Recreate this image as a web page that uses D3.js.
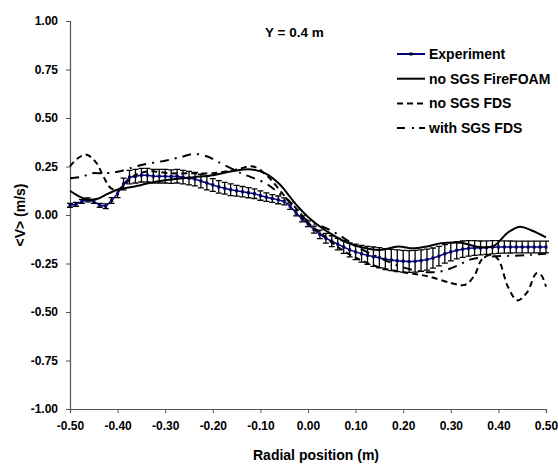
<!DOCTYPE html>
<html>
<head>
<meta charset="utf-8">
<script src="https://cdn.jsdelivr.net/npm/d3@7"></script>
<style>
  body { margin: 0; background: #fff; }
  svg text { font-family: "Liberation Sans", Arial, sans-serif; font-weight: bold; fill: #000; }
</style>
</head>
<body>
<div id="chart"></div>
<script>
// experiment, sampled every 0.0125 m from -0.50 to 0.50
var expX = d3.range(81).map(function(i) { return +(-0.5 + i * 0.0125).toFixed(4); });
var expV = [
  0.05, 0.055, 0.07, 0.078, 0.07, 0.05, 0.045, 0.075, 0.11, 0.16,
  0.195, 0.20, 0.205, 0.205, 0.20, 0.20, 0.20, 0.198, 0.20, 0.195,
  0.19, 0.185, 0.175, 0.165, 0.155, 0.145, 0.138, 0.13, 0.125, 0.12,
  0.115, 0.11, 0.10, 0.092, 0.085, 0.078, 0.07, 0.045, 0.01, -0.02,
  -0.045, -0.075, -0.10, -0.12, -0.135, -0.15, -0.165, -0.18, -0.19, -0.20,
  -0.208, -0.215, -0.22, -0.228, -0.232, -0.236, -0.238, -0.24, -0.238, -0.235,
  -0.23, -0.222, -0.212, -0.20, -0.19, -0.182, -0.176, -0.172, -0.17, -0.17,
  -0.168, -0.166, -0.165, -0.165, -0.165, -0.165, -0.165, -0.165, -0.165, -0.165,
  -0.165
];
var expErr = [
  0.01, 0.01, 0.01, 0.01, 0.01, 0.01, 0.012, 0.015, 0.02, 0.03,
  0.035, 0.035, 0.035, 0.035, 0.035, 0.035, 0.035, 0.035, 0.035, 0.035,
  0.035, 0.035, 0.035, 0.035, 0.033, 0.032, 0.03, 0.03, 0.028, 0.027,
  0.026, 0.025, 0.024, 0.022, 0.02, 0.02, 0.018, 0.016, 0.015, 0.015,
  0.015, 0.018, 0.022, 0.025, 0.028, 0.03, 0.033, 0.036, 0.04, 0.043,
  0.046, 0.05, 0.052, 0.054, 0.055, 0.056, 0.056, 0.056, 0.056, 0.055,
  0.054, 0.052, 0.05, 0.048, 0.046, 0.044, 0.042, 0.04, 0.038, 0.036,
  0.035, 0.034, 0.033, 0.032, 0.031, 0.03, 0.03, 0.03, 0.03, 0.03,
  0.03
];

// no SGS FireFOAM
var foamX = [-0.5, -0.48, -0.46, -0.44, -0.42, -0.40, -0.38, -0.35, -0.32, -0.28, -0.24, -0.2, -0.16, -0.12, -0.09, -0.06, -0.04, -0.02, 0.0, 0.02, 0.05, 0.08, 0.11, 0.15, 0.19, 0.22, 0.25, 0.28, 0.32, 0.36, 0.39, 0.42, 0.445, 0.47, 0.5];
var foamV = [0.125, 0.095, 0.078, 0.085, 0.11, 0.13, 0.14, 0.155, 0.172, 0.185, 0.195, 0.205, 0.225, 0.235, 0.215, 0.16, 0.10, 0.04, -0.01, -0.05, -0.10, -0.14, -0.165, -0.18, -0.163, -0.172, -0.162, -0.145, -0.143, -0.165, -0.16, -0.09, -0.06, -0.08, -0.115];

// no SGS FDS
var fdsX = [-0.5, -0.485, -0.465, -0.445, -0.43, -0.415, -0.40, -0.38, -0.36, -0.33, -0.29, -0.25, -0.2, -0.15, -0.115, -0.085, -0.05, -0.02, 0.0, 0.03, 0.06, 0.1, 0.15, 0.2, 0.25, 0.3, 0.33, 0.35, 0.365, 0.385, 0.40, 0.42, 0.44, 0.46, 0.48, 0.49, 0.5];
var fdsV = [0.25, 0.29, 0.31, 0.27, 0.20, 0.14, 0.13, 0.17, 0.21, 0.225, 0.215, 0.215, 0.215, 0.235, 0.25, 0.20, 0.10, 0.02, -0.04, -0.10, -0.16, -0.22, -0.27, -0.295, -0.315, -0.35, -0.36, -0.31, -0.23, -0.205, -0.23, -0.37, -0.44, -0.40, -0.30, -0.31, -0.37];

// with SGS FDS
var sgsX = [-0.5, -0.475, -0.455, -0.43, -0.40, -0.35, -0.30, -0.265, -0.24, -0.21, -0.19, -0.14, -0.09, -0.065, -0.04, -0.02, 0.0, 0.04, 0.07, 0.1, 0.15, 0.2, 0.25, 0.28, 0.315, 0.34, 0.38, 0.43, 0.47, 0.5];
var sgsV = [0.19, 0.197, 0.215, 0.215, 0.223, 0.258, 0.28, 0.30, 0.315, 0.30, 0.275, 0.215, 0.165, 0.12, 0.07, 0.01, -0.03, -0.07, -0.11, -0.16, -0.22, -0.27, -0.295, -0.29, -0.26, -0.23, -0.215, -0.21, -0.205, -0.20];

var xTicks = [-0.5, -0.4, -0.3, -0.2, -0.1, 0, 0.1, 0.2, 0.3, 0.4, 0.5];
var yTicks = [-1, -0.75, -0.5, -0.25, 0, 0.25, 0.5, 0.75, 1];

var legendNames = ["Experiment", "no SGS FireFOAM", "no SGS FDS", "with SGS FDS"];

var width = 558, height = 474;
var plotLeft = 70, plotRight = 546, plotTop = 21, plotBottom = 409;

var svg = d3.select('#chart').append('svg')
  .attr('width', width)
  .attr('height', height);

var x = d3.scaleLinear().domain([-0.5, 0.5]).range([plotLeft, plotRight]);
var y = d3.scaleLinear().domain([-1, 1]).range([plotBottom, plotTop]);

// hyphen minus like the original, not the unicode minus
var fmt = function(d) { return d3.format('.2f')(d).replace('\u2212', '-'); };

// axes
var xAxis = svg.append('g')
  .attr('transform', 'translate(0,' + plotBottom + ')')
  .call(d3.axisBottom(x).tickValues(xTicks).tickFormat(fmt).tickSize(4).tickPadding(6));
var yAxis = svg.append('g')
  .attr('transform', 'translate(' + plotLeft + ',0)')
  .call(d3.axisLeft(y).tickValues(yTicks).tickFormat(fmt).tickSize(4).tickPadding(8));

[xAxis, yAxis].forEach(function(a) {
  a.select('.domain').attr('stroke', '#555').attr('stroke-width', 1.2);
  a.selectAll('.tick line').attr('stroke', '#555');
  a.selectAll('.tick text')
    .style('font-family', '"Liberation Sans", Arial, sans-serif')
    .style('font-weight', 'bold')
    .style('font-size', '12px')
    .attr('fill', '#000');
});
xAxis.selectAll('.tick text').attr('dy', '0.9em');

// axis titles
svg.append('text')
  .attr('x', 316).attr('y', 460)
  .attr('text-anchor', 'middle')
  .style('font-size', '14px')
  .text('Radial position (m)');

svg.append('text')
  .attr('transform', 'translate(25,' + ((plotTop + plotBottom) / 2) + ') rotate(-90)')
  .attr('text-anchor', 'middle')
  .style('font-size', '14px')
  .text('<V> (m/s)');

svg.append('text')
  .attr('x', 265).attr('y', 37)
  .style('font-size', '13.5px')
  .text('Y = 0.4 m');

// model lines
function zip(xs, vs) {
  return xs.map(function(d, i) { return {x: d, v: vs[i]}; });
}

var line = d3.line()
  .x(function(d) { return x(d.x); })
  .y(function(d) { return y(d.v); })
  .curve(d3.curveCatmullRom.alpha(0.5));

// experiment error bars
var expData = expX.map(function(d, i) { return {x: d, v: expV[i], e: expErr[i]}; });
var bars = svg.append('g').attr('class', 'errbars');
bars.selectAll('.eb')
  .data(expData)
  .enter().append('path')
  .attr('class', 'eb')
  .attr('fill', 'none')
  .attr('stroke', '#000')
  .attr('stroke-width', 1.3)
  .attr('d', function(d) {
    var cx = x(d.x), y1 = y(d.v + d.e), y2 = y(d.v - d.e);
    return 'M' + cx + ',' + y1 + 'V' + y2 +
      'M' + (cx - 3) + ',' + y1 + 'H' + (cx + 3) +
      'M' + (cx - 3) + ',' + y2 + 'H' + (cx + 3);
  });

svg.append('path')
  .datum(expData)
  .attr('fill', 'none')
  .attr('stroke', '#000080')
  .attr('stroke-width', 1.5)
  .attr('d', d3.line().x(function(d) { return x(d.x); }).y(function(d) { return y(d.v); }));

svg.append('g').selectAll('rect')
  .data(expData)
  .enter().append('rect')
  .attr('x', function(d) { return x(d.x) - 1.5; })
  .attr('y', function(d) { return y(d.v) - 1.5; })
  .attr('width', 3).attr('height', 3)
  .attr('fill', '#000060');

svg.append('path')
  .datum(zip(foamX, foamV))
  .attr('fill', 'none').attr('stroke', '#000').attr('stroke-width', 2)
  .attr('d', line);

svg.append('path')
  .datum(zip(fdsX, fdsV))
  .attr('fill', 'none').attr('stroke', '#000').attr('stroke-width', 2)
  .attr('stroke-dasharray', '6,4')
  .attr('d', line);

svg.append('path')
  .datum(zip(sgsX, sgsV))
  .attr('fill', 'none').attr('stroke', '#000').attr('stroke-width', 2)
  .attr('stroke-dasharray', '9,6,2,6')
  .attr('d', line);

// legend
var legend = svg.append('g').attr('transform', 'translate(397,54)');
var legStyles = [
  {color: '#000080', dash: null},
  {color: '#000', dash: null},
  {color: '#000', dash: '6,4'},
  {color: '#000', dash: '8,7,2,5'}
];
legendNames.forEach(function(name, i) {
  var g = legend.append('g').attr('transform', 'translate(0,' + (i * 24.7) + ')');
  g.append('line')
    .attr('x1', 0).attr('x2', 28).attr('y1', 0).attr('y2', 0)
    .attr('stroke', legStyles[i].color)
    .attr('stroke-width', 2)
    .attr('stroke-dasharray', legStyles[i].dash);
  if (i === 0) {
    g.append('rect').attr('x', 12.5).attr('y', -1.5).attr('width', 3).attr('height', 3).attr('fill', '#000');
  }
  g.append('text')
    .attr('x', 32).attr('y', 5)
    .style('font-size', '14px')
    .text(name);
});
</script>
</body>
</html>
